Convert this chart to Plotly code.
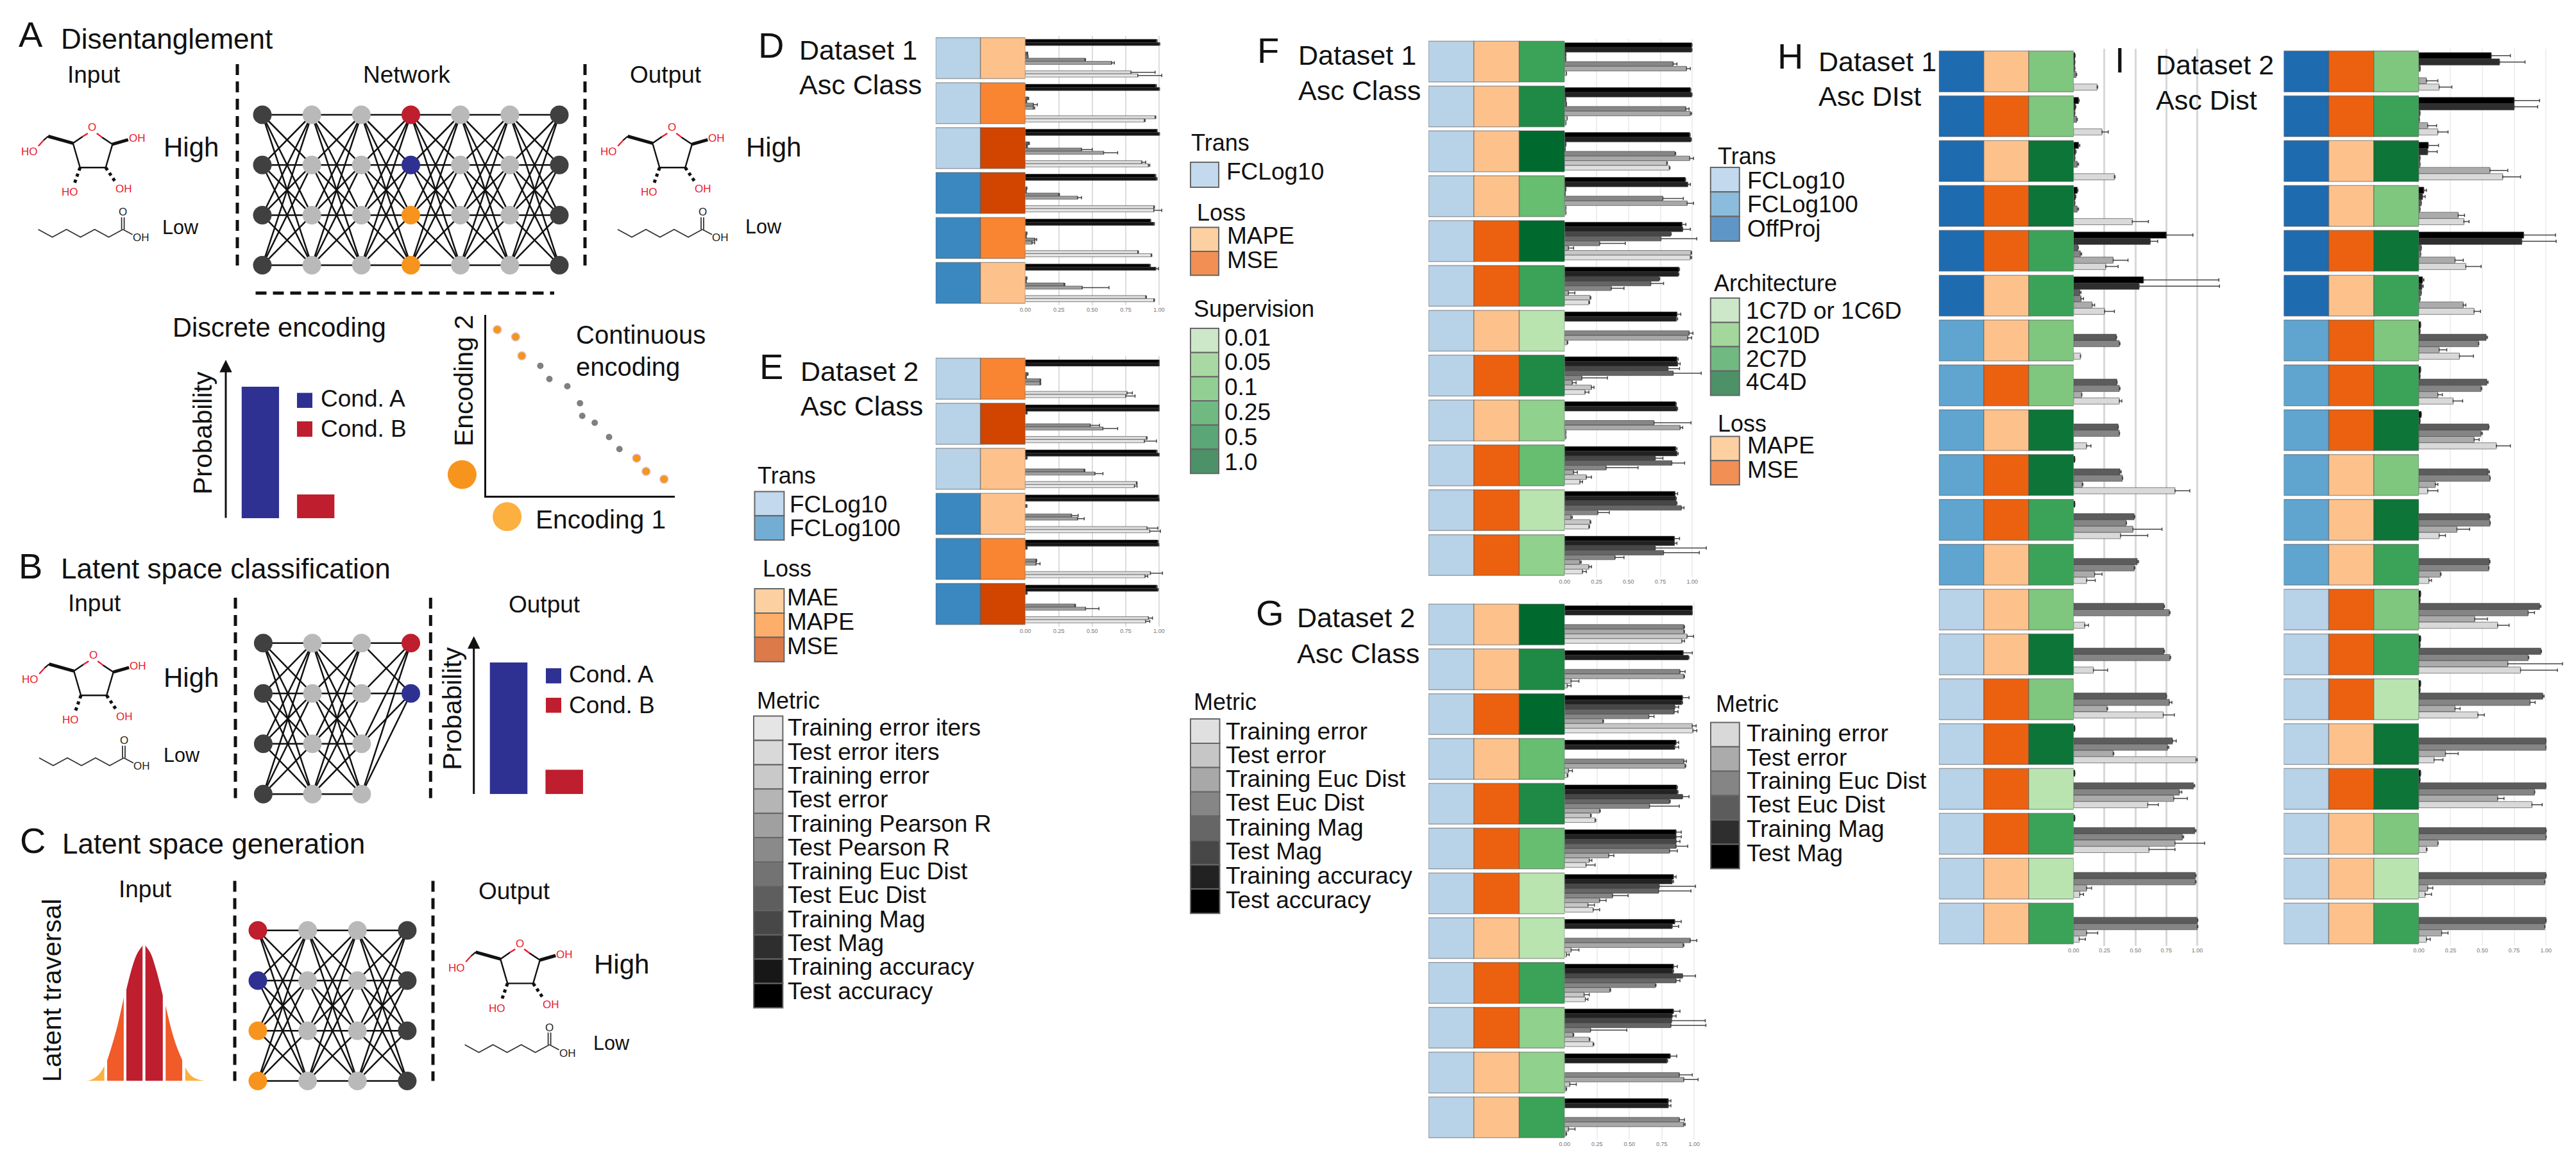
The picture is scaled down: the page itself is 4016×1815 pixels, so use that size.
import plotly.graph_objects as go

# ---------------- data -----------------
METRICS_12 = ["Test accuracy", "Training accuracy", "Test Mag", "Training Mag", "Test Euc Dist", "Training Euc Dist",
              "Test Pearson R", "Training Pearson R", "Test error", "Training error", "Test error iters", "Training error iters"]
METRICS_8 = ["Test accuracy", "Training accuracy", "Test Mag", "Training Mag", "Test Euc Dist", "Training Euc Dist",
             "Test error", "Training error"]
METRICS_6 = ["Test Mag", "Training Mag", "Test Euc Dist", "Training Euc Dist", "Test error", "Training error"]

D_TRANS = ["FCLog10", "FCLog10", "FCLog10", "FCLog100", "FCLog100", "FCLog100"]
D_LOSS = ["MAE", "MAPE", "MSE", "MSE", "MAPE", "MAE"]
D_VALUES = [
    [.98, 1.0, 0, 0, .015, .02, .445, .645, 0, 0, .79, .84],
    [.975, 1.0, 0, 0, .02, .005, .06, .06, 0, 0, .97, .89],
    [.985, 1.0, 0, 0, .025, .01, .42, .585, 0, 0, .87, .92],
    [.97, .98, 0, 0, .01, .005, .25, .39, 0, 0, .96, .96],
    [.935, .96, 0, 0, .01, .005, .07, .05, 0, 0, .84, .94],
    [.93, .975, 0, 0, .01, .005, .29, .425, 0, 0, .9, .96],
]
D_ERRORS = [
    [.005, .005, 0, 0, .003, 0, .005, .02, 0, 0, .18, .18],
    [.005, .003, 0, 0, .005, .005, .03, .01, 0, 0, .005, .005],
    [0, .003, 0, 0, .005, .005, .08, .105, 0, 0, .03, .01],
    [.005, .005, 0, 0, .002, .002, .005, .03, 0, 0, .005, .06],
    [.002, .005, 0, 0, .002, .002, .015, .02, 0, 0, .005, .005],
    [.005, .02, 0, 0, .002, .002, .005, .2, 0, 0, .005, .005],
]

E_TRANS = ["FCLog10", "FCLog10", "FCLog10", "FCLog100", "FCLog100", "FCLog100"]
E_LOSS = ["MAPE", "MSE", "MAE", "MAE", "MAPE", "MSE"]
E_VALUES = [
    [1, 1, 0, 0, .015, .005, .11, .11, 0, 0, .76, .75],
    [1, 1, .01, 0, 0, 0, .485, .58, 0, 0, .905, .89],
    [.98, 1, .01, 0, 0, 0, .44, .52, 0, 0, .83, .815],
    [.995, 1, 0, .01, 0, 0, .345, .39, 0, 0, .91, .93],
    [.99, .995, .01, 0, 0, 0, .08, .08, 0, 0, .935, .895],
    [.98, .99, .01, 0, 0, 0, .37, .45, 0, 0, .92, .9],
]
E_ERRORS = [
    [0, 0, 0, 0, .005, .002, .005, .005, 0, 0, .04, .07],
    [0, 0, .003, 0, 0, 0, .07, .11, 0, 0, .005, .09],
    [.005, 0, .003, 0, 0, 0, .005, .06, 0, 0, .005, .02],
    [.003, 0, 0, .002, 0, 0, .05, .05, 0, 0, .08, .08],
    [.003, .003, .003, 0, 0, 0, .005, .03, 0, 0, .09, .02],
    [.005, .003, .003, 0, 0, 0, .005, .1, 0, 0, .03, .03],
]

F_TRANS = ["FCLog10"] * 12
F_LOSS = ["MAPE", "MAPE", "MAPE", "MAPE", "MSE", "MSE", "MAPE", "MSE", "MAPE", "MSE", "MSE", "MSE"]
F_ARCH = ["0.25", "0.5", "1.0", "0.1", "1.0", "0.25", "0.01", "0.5", "0.05", "0.1", "0.01", "0.05"]
F_VALUES = [
    [.995, .995, .01, .01, .85, .955, .015, 0],
    [.985, .995, .01, .015, .95, .985, .02, .01],
    [.98, .99, .01, .005, .865, .98, .80, .82],
    [.945, .965, .01, .005, .77, .96, .01, .01],
    [.92, .925, .83, .755, .275, .03, .99, .985],
    [.895, .89, .74, .675, .365, .03, .2, .19],
    [.88, .875, 0, 0, .975, .965, .02, 0],
    [.88, .885, .81, .85, .135, .06, .21, .16],
    [.87, .88, 0, 0, .70, .905, .01, .01],
    [.87, .88, .71, .84, .325, .07, .17, .12],
    [.865, .87, .875, .915, .26, .05, .2, .19],
    [.86, .86, .71, .775, .395, .12, .19, .14],
]
F_ERRORS = [
    [.003, .003, 0, 0, .03, .03, 0, 0],
    [.003, .003, 0, 0, .025, .01, 0, 0],
    [.003, .003, 0, 0, .005, .03, .005, .005],
    [.003, .02, 0, 0, .16, .05, 0, 0],
    [.03, .06, .005, .28, .2, .04, .005, .01],
    [.005, .005, .005, .1, .1, .05, .005, .005],
    [.03, .01, 0, 0, .03, .03, .005, 0],
    [.01, .02, .09, .22, .2, .03, .02, .03],
    [.005, .005, 0, 0, .29, .02, 0, 0],
    [.01, .01, .06, .1, .25, .03, .04, .02],
    [.02, .005, .005, .02, .09, .01, .005, .005],
    [.04, .02, .4, .28, .07, .01, .02, .03],
]

G_TRANS = ["FCLog10"] * 12
G_LOSS = ["MAPE", "MAPE", "MSE", "MAPE", "MSE", "MSE", "MSE", "MAPE", "MSE", "MSE", "MAPE", "MAPE"]
G_ARCH = ["1.0", "0.5", "1.0", "0.1", "0.5", "0.1", "0.01", "0.01", "0.25", "0.05", "0.05", "0.25"]
G_VALUES = [
    [.985, .985, 0, 0, .92, .92, .945, .905],
    [.915, .955, 0, 0, .89, .92, .05, .02],
    [.91, .905, .85, .845, .65, .295, .985, .99],
    [.86, .85, 0, 0, .92, .93, .03, .02],
    [.865, .87, .91, .81, .655, .27, .20, .235],
    [.86, .86, .86, .86, .81, .34, .19, .165],
    [.84, .83, .73, .725, .37, .27, .18, .22],
    [.85, .83, 0, 0, .97, .915, .05, .015],
    [.84, .835, .91, .86, .70, .35, .15, .16],
    [.84, .83, .825, .82, .2, .065, .19, .22],
    [.815, .79, 0, 0, .885, .92, .04, .01],
    [.80, .80, 0, 0, .885, .92, .03, .01],
]
G_ERRORS = [
    [0, 0, 0, 0, .005, .005, .05, .02],
    [.07, .005, 0, 0, .04, .005, .06, .03],
    [.05, .005, .03, .03, .04, .005, .03, .03],
    [.02, .03, 0, 0, .02, .005, .03, .005],
    [.005, .005, .05, .005, .23, .005, .005, .005],
    [.04, .04, .03, .09, .06, .04, .02, .07],
    [.02, .01, .28, .25, .12, .05, .05, .05],
    [.05, .05, 0, 0, .05, .005, .06, .02],
    [.03, .005, .1, .03, .005, .005, .04, .02],
    [.05, .03, .26, .27, .28, .005, .005, .005],
    [.05, .005, 0, 0, .1, .11, .05, .005],
    [.02, .02, 0, 0, .04, .01, .05, .005],
]

H_TRANS = ["OffProj"] * 6 + ["FCLog100"] * 6 + ["FCLog10"] * 8
H_LOSS = ["MAPE", "MSE", "MAPE", "MSE", "MSE", "MAPE", "MAPE", "MSE", "MAPE", "MSE", "MSE", "MAPE",
          "MAPE", "MAPE", "MSE", "MSE", "MSE", "MSE", "MAPE", "MAPE"]
H_ARCH = ["2C10D", "2C10D", "4C4D", "4C4D", "2C7D", "2C7D", "2C10D", "2C10D", "4C4D", "4C4D", "2C7D", "2C7D",
          "2C10D", "4C4D", "2C10D", "4C4D", "1C7D", "2C7D", "1C7D", "2C7D"]
H_VALUES = [
    [.01, .01, .01, .02, 0, .19],
    [.04, .015, .01, .025, 0, .23],
    [.04, .015, .01, .03, 0, .33],
    [.03, .015, .01, .03, 0, .475],
    [.75, .62, .035, .055, .32, .26],
    [.565, .53, .05, .06, .15, .25],
    [0, 0, .345, .37, 0, .055],
    [0, 0, .35, .37, .065, .37],
    [0, 0, .36, .37, 0, .105],
    [.01, 0, .375, .395, .07, .82],
    [.01, 0, .49, .425, .48, .38],
    [0, 0, .515, .49, .17, .105],
    [0, 0, .73, .775, 0, .09],
    [0, 0, .73, .78, 0, .16],
    [0, 0, .75, .775, .27, .725],
    [.01, 0, .80, .76, .32, .99],
    [.01, 0, .97, .855, .81, .60],
    [.01, 0, .98, .88, .82, .61],
    [0, 0, .985, .985, .105, .05],
    [0, 0, 1.0, 1.0, .105, .045],
]
H_ERRORS = [
    [.003, 0, 0, .005, 0, .005],
    [.005, .003, 0, .005, 0, .05],
    [.01, .005, 0, .01, 0, .005],
    [.005, .003, 0, .01, 0, .13],
    [.215, .06, .003, .01, .12, .10],
    [.61, .65, .01, .02, .02, .08],
    [0, 0, .003, .005, 0, .002],
    [0, 0, .002, .005, .002, .02],
    [0, 0, .002, .002, 0, .035],
    [0, 0, .01, .002, .005, .12],
    [0, 0, .005, .003, .235, .22],
    [0, 0, .01, .005, .06, .07],
    [0, 0, .005, .005, 0, .03],
    [0, 0, .005, .005, 0, .115],
    [0, 0, .002, .02, .005, .09],
    [0, 0, .03, .01, .005, .01],
    [0, 0, .01, .02, .11, .085],
    [0, 0, .01, .01, .24, .21],
    [0, 0, .005, .005, .04, .03],
    [0, 0, .005, .005, .09, .05],
]

I_TRANS = ["OffProj"] * 6 + ["FCLog100"] * 6 + ["FCLog10"] * 8
I_LOSS = ["MSE", "MSE", "MAPE", "MAPE", "MSE", "MAPE", "MSE", "MSE", "MSE", "MAPE", "MAPE", "MAPE",
          "MSE", "MSE", "MSE", "MAPE", "MSE", "MAPE", "MAPE", "MAPE"]
I_ARCH = ["2C10D", "2C7D", "4C4D", "2C10D", "4C4D", "2C7D", "2C10D", "2C7D", "4C4D", "2C10D", "4C4D", "2C7D",
          "2C10D", "2C7D", "1C7D", "4C4D", "4C4D", "2C10D", "1C7D", "2C7D"]
I_VALUES = [
    [.57, .635, .012, 0, .06, .16],
    [.75, .75, .01, .005, .07, .15],
    [.075, .07, .01, .01, .56, .66],
    [.04, .03, .02, .01, .31, .355],
    [.825, .81, .02, .015, .285, .37],
    [.03, .025, .02, .01, .35, .435],
    [.015, .01, .53, .47, .16, .32],
    [.015, .01, .535, .49, .15, .27],
    [.02, .01, .55, .49, .435, .61],
    [0, 0, .545, .56, .13, .07],
    [0, 0, .555, .56, .30, .16],
    [0, 0, .555, .55, .17, .08],
    [.015, .01, .95, .86, .44, .62],
    [.015, .01, .96, .86, .70, .80],
    [.015, .01, .975, .875, .285, .465],
    [0, 0, 1.0, 1.0, .21, .12],
    [.015, .01, 1.0, .91, .62, .89],
    [0, 0, 1.0, 1.0, .15, .06],
    [0, 0, 1.0, .99, .07, .05],
    [0, 0, 1.0, .99, .18, .06],
]
I_ERRORS = [
    [.15, .2, 0, 0, .09, .10],
    [.2, .185, 0, 0, .07, .08],
    [.08, .075, 0, 0, .14, .14],
    [.02, .02, 0, 0, .05, .04],
    [.25, .27, 0, 0, .065, .12],
    [.01, .01, 0, 0, .02, .05],
    [0, 0, .01, .002, .06, .11],
    [0, 0, .01, .005, .035, .075],
    [0, 0, .002, .01, .04, .11],
    [0, 0, .01, .002, .02, .08],
    [0, 0, .005, .002, .1, .05],
    [0, 0, .005, .002, .005, .02],
    [0, 0, .01, .05, .1, .09],
    [0, 0, .005, .005, .43, .29],
    [0, 0, .01, .04, .04, .05],
    [0, 0, 0, 0, .1, .07],
    [0, 0, 0, .002, .05, .08],
    [0, 0, .002, .002, .002, .005],
    [0, 0, .002, .002, .04, .05],
    [0, 0, .002, .002, .05, .03],
]

COND_LABELS = ["Cond. A", "Cond. B"]
COND_PROB_A = [1.0, 0.18]
COND_PROB_B = [1.0, 0.185]
ENC_ORANGE_X = [.06, .157, .19, .798, .848, .943]
ENC_ORANGE_Y = [.917, .877, .772, .206, .133, .09]
ENC_GRAY_X = [.288, .336, .431, .498, .51, .576, .652, .707]
ENC_GRAY_Y = [.717, .644, .604, .51, .44, .402, .323, .256]
LATENT_Z = [[-2.89, -2.56, -2.22, -1.96], [-1.82, -1.56, -1.29, -1.0], [-.87, -.56, -.33, -.07],
            [.07, .33, .6, .93], [1.07, 1.33, 1.6, 1.89], [2.04, 2.33, 2.67, 3.07]]
LATENT_D = [[0, .012, .05, .11], [.15, .273, .42, .614], [.674, .85, .94, .997],
            [.997, .94, .82, .63], [.555, .392, .26, .154], [.1, .04, .012, 0]]

# ---------------- styles ---------------
W, H = 4016, 1815
FONT = "Liberation Sans"
RED, BLUE, ORANGE, ORANGE2 = "#be1e2d", "#2e3192", "#f7941d", "#fbb040"
DARK, LIGHT = "#404040", "#b9b9b9"
GRAYS = {"Training error iters": "#e5e5e5", "Test error iters": "#d9d9d9", "Training error": "#c9c9c9", "Test error": "#b5b5b5",
         "Training Pearson R": "#a0a0a0", "Test Pearson R": "#8a8a8a", "Training Euc Dist": "#737373", "Test Euc Dist": "#5e5e5e",
         "Training Mag": "#474747", "Test Mag": "#2e2e2e", "Training accuracy": "#171717", "Test accuracy": "#000000"}
GRAYS_8 = {"Training error": "#e0e0e0", "Test error": "#c6c6c6", "Training Euc Dist": "#a8a8a8", "Test Euc Dist": "#868686",
           "Training Mag": "#666666", "Test Mag": "#474747", "Training accuracy": "#222222", "Test accuracy": "#000000"}
GRAYS_6 = {"Training error": "#d9d9d9", "Test error": "#ababab", "Training Euc Dist": "#858585", "Test Euc Dist": "#5c5c5c",
           "Training Mag": "#2e2e2e", "Test Mag": "#000000"}
TRANS_C1 = {"FCLog10": "#b8d2e8", "FCLog100": "#3b88c0"}
TRANS_C2 = {"FCLog10": "#b8d2e8", "FCLog100": "#5fa5d0", "OffProj": "#1f6bb0"}
LOSS_C1 = {"MAE": "#fdc28c", "MAPE": "#f98533", "MSE": "#d14501"}
LOSS_C2 = {"MAPE": "#fdc28c", "MSE": "#ec6110"}
SUP_C = {"0.01": "#b9e4b0", "0.05": "#90d18d", "0.1": "#67bd70", "0.25": "#3ba358", "0.5": "#1f8a45", "1.0": "#006a2e"}
ARCH_C = {"1C7D": "#b9e4b0", "2C10D": "#7fc67e", "2C7D": "#3ba358", "4C4D": "#0c7537"}

fig = go.Figure()
layout_axes = {}
counter = [0]


def axes(x0, x1, y0, y1, xr, yr, xextra=None):
    counter[0] += 1
    n = counter[0]
    s = "" if n == 1 else str(n)
    xa = dict(domain=[x0 / W, x1 / W], range=xr, visible=False, anchor="y" + s, fixedrange=True)
    if xextra:
        xa.update(xextra)
    layout_axes["xaxis" + s] = xa
    layout_axes["yaxis" + s] = dict(domain=[1 - y1 / H, 1 - y0 / H], range=yr, visible=False, anchor="x" + s, fixedrange=True)
    return "x" + s, "y" + s


annotations, shapes = [], []


def txt(s, x, y, size=37, anchor="left", angle=0, color="#111111"):
    annotations.append(dict(text=s, x=x / W, y=1 - y / H, xref="paper", yref="paper", xanchor=anchor, yanchor="middle",
                            showarrow=False, textangle=angle, font=dict(family=FONT, size=size, color=color)))


def arrow(x, y_tail, y_head):
    annotations.append(dict(text="", x=x / W, y=1 - y_head / H, xref="paper", yref="paper", ax=0, ay=y_tail - y_head,
                            axref="pixel", ayref="pixel", showarrow=True, arrowhead=2, arrowsize=1.3, arrowwidth=3, arrowcolor="#111"))


def rect(x0, y0, x1, y1, fill, line="#666666", lw=2):
    shapes.append(dict(type="rect", xref="paper", yref="paper", x0=x0 / W, x1=x1 / W, y0=1 - y1 / H, y1=1 - y0 / H,
                       fillcolor=fill, line=dict(color=line, width=lw)))


def dash(x0, y0, x1, y1):
    shapes.append(dict(type="line", xref="paper", yref="paper", x0=x0 / W, x1=x1 / W, y0=1 - y0 / H, y1=1 - y1 / H,
                       line=dict(color="#111", width=5, dash="17px,10px")))


def panel(top, bottom, sx0, sx1, zero, one, cols, colmaps, metrics, colors, values, errors, grid, gridw, etop=1.25):
    n = len(values)
    pitch = (bottom - top) / (n - .09)
    y0, y1 = top - .045 * pitch, bottom + .045 * pitch
    rows = list(range(n))
    xa, ya = axes(sx0, sx1, y0, y1, [0, len(cols)], [n - .5, -.5])
    for c, (col, cm) in enumerate(zip(cols, colmaps)):
        fig.add_trace(go.Bar(y=rows, x=[1] * n, base=[c] * n, orientation="h", width=.91, offset=-.455, xaxis=xa, yaxis=ya,
                             marker=dict(color=[cm[v] for v in col], line=dict(color="rgba(70,70,70,.45)", width=1.5)), showlegend=False))
    xb, yb = axes(zero, zero + (one - zero) * etop, y0, y1, [0, etop], [n - .5, -.5], dict(
        visible=True, showline=False, zeroline=False, showgrid=True, gridcolor=grid, gridwidth=gridw, ticks="",
        tickvals=[0, .25, .5, .75, 1], ticktext=["0.00", "0.25", "0.50", "0.75", "1.00"],
        tickfont=dict(family=FONT, size=9, color="#777777")))
    m = len(metrics)
    w = .84 / m
    for i, name in enumerate(metrics):
        vals = [r[i] if r[i] > 0 else None for r in values]
        errs = [r[i] for r in errors]
        fig.add_trace(go.Bar(y=rows, x=vals, orientation="h", width=w, offset=-.42 + i * w, name=name, xaxis=xb, yaxis=yb,
                             marker=dict(color=colors[name], line=dict(color="rgba(60,60,60,.6)", width=1)), showlegend=False,
                             error_x=dict(type="data", symmetric=False, array=errs, arrayminus=[0] * n, color="#444444", thickness=1.5, width=2.5)))


panel(58.8, 473, 1458.7, 1598.5, 1598.5, 1807.1, [D_TRANS, D_LOSS], [TRANS_C1, LOSS_C1], METRICS_12, GRAYS, D_VALUES, D_ERRORS, "#dddddd", 2)
panel(558.6, 973.7, 1458.7, 1598.5, 1598.5, 1807.1, [E_TRANS, E_LOSS], [TRANS_C1, LOSS_C1], METRICS_12, GRAYS, E_VALUES, E_ERRORS, "#dddddd", 2)
panel(64.2, 897.3, 2227, 2439.3, 2439.3, 2638.3, [F_TRANS, F_LOSS, F_ARCH], [TRANS_C1, LOSS_C2, SUP_C], METRICS_8, GRAYS_8, F_VALUES, F_ERRORS, "#eeeeee", 2)
panel(942, 1774, 2227, 2439.3, 2439.3, 2641.3, [G_TRANS, G_LOSS, G_ARCH], [TRANS_C1, LOSS_C2, SUP_C], METRICS_8, GRAYS_8, G_VALUES, G_ERRORS, "#eeeeee", 2)
panel(79.5, 1471.8, 3022.8, 3232.8, 3232.8, 3425.5, [H_TRANS, H_LOSS, H_ARCH], [TRANS_C2, LOSS_C2, ARCH_C], METRICS_6, GRAYS_6, H_VALUES, H_ERRORS, "#d8d8d8", 3)
panel(79.5, 1471.8, 3560.4, 3770.9, 3770.9, 3969.2, [I_TRANS, I_LOSS, I_ARCH], [TRANS_C2, LOSS_C2, ARCH_C], METRICS_6, GRAYS_6, I_VALUES, I_ERRORS, "#f0f0f0", 2, etop=1.2)


# ---------- networks -----------
def network(xs0, xs1, ys0, ys1, layer_colors, node_size=29, lw=2.5):
    L = len(layer_colors)
    R = 4
    px = (xs1 - xs0) / (L - 1)
    py = (ys1 - ys0) / (R - 1)
    xa, ya = axes(xs0 - px / 2, xs1 + px / 2, ys0 - py / 2, ys1 + py / 2, [-.5, L - .5], [R - .5, -.5])
    ex, ey = [], []
    for l in range(L - 1):
        for a in range(len(layer_colors[l])):
            for b in range(len(layer_colors[l + 1])):
                ex += [l, l + 1, None]
                ey += [a, b, None]
    fig.add_trace(go.Scatter(x=ex, y=ey, mode="lines", line=dict(color="#111", width=lw), xaxis=xa, yaxis=ya, showlegend=False))
    nx, ny, nc = [], [], []
    for l, cs in enumerate(layer_colors):
        for r, c in enumerate(cs):
            nx.append(l)
            ny.append(r)
            nc.append(c)
    fig.add_trace(go.Scatter(x=nx, y=ny, mode="markers", marker=dict(size=node_size, color=nc, line=dict(width=0)),
                             xaxis=xa, yaxis=ya, showlegend=False))


d4 = [DARK] * 4
g4 = [LIGHT] * 4
network(409, 872, 179, 413.6, [d4, g4, g4, [RED, BLUE, ORANGE, ORANGE], g4, g4, d4])
network(410.4, 640.5, 1002.8, 1238.3, [d4, g4, g4, [RED, BLUE]])
network(402, 634.9, 1450.7, 1685.6, [[RED, BLUE, ORANGE, ORANGE], g4, g4, d4])


def prob_bars(cx0, cx1, base, top, vals):
    pitch = cx1 - cx0
    xa, ya = axes(cx0 - pitch / 2, cx1 + pitch / 2, top, base, [-.5, 1.5], [0, 1])
    fig.add_trace(go.Bar(x=[0, 1], y=vals, width=.675, marker=dict(color=[BLUE, RED], line=dict(width=0)),
                         xaxis=xa, yaxis=ya, showlegend=False, text=None))


prob_bars(405.9, 492.2, 808, 603, COND_PROB_A)
prob_bars(793, 879.7, 1238.3, 1033, COND_PROB_B)

# encoding scatter
xa, ya = axes(757.6, 1052, 490.6, 772.5, [0, 1], [0, 1], dict())
layout_axes["x" + "axis" + xa[1:]].update(visible=True, showline=True, linecolor="#111", linewidth=3, showgrid=False, zeroline=False,
                                          showticklabels=False, ticks="")
layout_axes["y" + "axis" + ya[1:]].update(visible=True, showline=True, linecolor="#111", linewidth=3, showgrid=False, zeroline=False,
                                          showticklabels=False, ticks="")
fig.add_trace(go.Scatter(x=ENC_GRAY_X, y=ENC_GRAY_Y, mode="markers", marker=dict(size=10, color="#808080", line=dict(width=0)),
                         xaxis=xa, yaxis=ya, showlegend=False))
fig.add_trace(go.Scatter(x=ENC_ORANGE_X, y=ENC_ORANGE_Y, mode="markers",
                         marker=dict(size=13, color=ORANGE, line=dict(width=1.5, color="#d8c8d8")), xaxis=xa, yaxis=ya, showlegend=False))

# Gaussian
xa, ya = axes(133.3, 321.3, 1473.9, 1685.6, [-2.89, 3.07], [0, 1])
for z, d, c in zip(LATENT_Z, LATENT_D, [ORANGE2, "#f15a29", RED, RED, "#f15a29", ORANGE2]):
    fig.add_trace(go.Scatter(x=z, y=d, mode="lines", fill="tozeroy", fillcolor=c, line=dict(width=0, color=c, shape="spline"),
                             xaxis=xa, yaxis=ya, showlegend=False))

# ---------- molecules on a page-sized axis -----------
pa, pb = axes(0, W, 0, H, [0, W], [H, 0])


def seg(points, color, width, dash_="solid"):
    fig.add_trace(go.Scatter(x=[p[0] for p in points], y=[p[1] for p in points], mode="lines",
                             line=dict(color=color, width=width, dash=dash_), xaxis=pa, yaxis=pb, showlegend=False))


def ribose(ox, oy):
    P = lambda a, b: (ox + a, oy + b)
    c1, c2, c3, c4 = (31.6, 20), (21, 56.4), (-19, 56.4), (-30, 18.4)
    seg([P(*c1), P(*c2), P(*c3), P(*c4), P(-15, 8)], "#111", 2.4)
    seg([P(*c1), P(15, 9)], "#111", 2.4)
    seg([P(-15, 8), P(-7, 3)], "#e8192c", 2.4)
    seg([P(15, 9), P(7, 3)], "#e8192c", 2.4)
    seg([P(*c4), P(-68.7, 7.6)], "#111", 5)
    seg([P(-68.7, 7.6), P(-76, 14)], "#111", 2.2)
    seg([P(-76, 14), P(-84, 22.8)], "#e8192c", 2.2)
    seg([P(*c1), P(56, 13)], "#111", 5)
    seg([P(*c2), P(37, 80)], "#111", 5, "dot")
    seg([P(*c3), P(-28, 82)], "#111", 5, "dot")
    for t, a, b in [("O", 0, -6), ("HO", -98, 32), ("OH", 70, 11), ("OH", 49, 89.5), ("HO", -35, 95)]:
        txt(t, ox + a, oy + b, 17, "center", color="#e8192c")


def chain(sx, sy):
    pts = [(sx + i * 22, sy + (12 if i % 2 else 0)) for i in range(7)]
    seg(pts, "#333", 1.8)
    cx, cy = pts[-1]
    seg([(cx - 2, cy), (cx - 2, cy - 19)], "#333", 1.8)
    seg([(cx + 2, cy), (cx + 2, cy - 19)], "#333", 1.8)
    seg([(cx, cy), (cx + 15, cy + 8)], "#333", 1.8)
    txt("O", cx, cy - 27, 17, "center", color="#222")
    txt("OH", cx + 28, cy + 13, 17, "center", color="#222")


ribose(143.8, 204.9)
chain(59.6, 357.8)
ribose(1047.3, 204.9)
chain(963, 357.8)
ribose(145.2, 1027.9)
chain(61, 1181.8)
ribose(810.2, 1477)
chain(724.6, 1629)

# circles beside the encoding axes
fig.add_trace(go.Scatter(x=[720.4, 790.6], y=[740, 805.6], mode="markers", marker=dict(size=45, color=[ORANGE, ORANGE2], line=dict(width=0)),
                         xaxis=pa, yaxis=pb, showlegend=False))

# ---------- dashed separators ----------
dash(370, 100, 370, 415)
dash(912, 100, 912, 415)
dash(398.5, 457, 864, 457)
dash(367, 932, 367, 1244.6)
dash(671.3, 932, 671.3, 1244.6)
dash(366, 1373.4, 366, 1685.6)
dash(675, 1373.4, 675, 1685.6)
arrow(352, 809, 561)
arrow(738.7, 1239.6, 992)

# ---------- text A, B, C ----------
txt("A", 48, 54, 56, "center")
txt("Disentanglement", 93, 60, 44)
txt("Input", 146.6, 116.6, 37, "center")
txt("Network", 633.5, 116.6, 37, "center")
txt("Output", 1038, 116.6, 37, "center")
txt("High", 252.5, 230, 42)
txt("Low", 251, 354, 30.6)
txt("High", 1161, 230, 42)
txt("Low", 1160, 353, 30.6)
txt("Discrete encoding", 435, 511, 41.6, "center")
txt("Probability", 316, 675, 41, "center", -90)
txt("Encoding 2", 722.5, 593.6, 41, "center", -90)
txt("Encoding 1", 832.7, 810, 40.6)
txt("Continuous", 896, 521.5, 40)
txt("encoding", 896, 572, 40)
rect(463, 612.6, 487, 636, BLUE, BLUE, 0)
rect(463, 657, 487, 681, RED, RED, 0)
txt(COND_LABELS[0], 498, 621, 37)
txt(COND_LABELS[1], 498, 668, 37)

txt("B", 47.7, 882, 56, "center")
txt("Latent space classification", 93.3, 886.5, 44)
txt("Input", 147, 940.6, 37, "center")
txt("Output", 849, 943, 37, "center")
txt("High", 252.5, 1056, 42)
txt("Low", 252.5, 1177.4, 30.6)
txt("Probability", 705, 1104.7, 41, "center", -90)
rect(851, 1042, 875, 1065.6, BLUE, BLUE, 0)
rect(851, 1088, 875, 1111.4, RED, RED, 0)
txt(COND_LABELS[0], 885, 1051, 37)
txt(COND_LABELS[1], 885, 1099, 37)

txt("C", 50.5, 1310.6, 56, "center")
txt("Latent space generation", 94.7, 1315, 44)
txt("Latent traversal", 80.7, 1544.6, 41.5, "center", -90)
txt("Input", 226.6, 1386, 37, "center")
txt("Output", 801.8, 1389, 37, "center")
txt("High", 924, 1503.4, 42)
txt("Low", 922.5, 1626, 30.6)

# ---------- panel titles ----------
for letter, lx, ly, a, b, tx, y1, y2 in [
    ("D", 1202, 70.9, "Dataset 1", "Asc Class", 1244.4, 77.6, 132),
    ("E", 1202, 571.4, "Dataset 2", "Asc Class", 1246.4, 578.7, 633),
    ("F", 1976.5, 78.8, "Dataset 1", "Asc Class", 2022.4, 86, 141),
    ("G", 1980, 955.4, "Dataset 2", "Asc Class", 2020, 963, 1018.5),
    ("H", 2790.5, 88, "Dataset 1", "Asc DIst", 2832.6, 96, 150),
    ("I", 3305, 93, "Dataset 2", "Asc Dist", 3359, 100.6, 155.7),
]:
    txt(letter, lx, ly, 56, "center")
    txt(a, tx, y1, 43)
    txt(b, tx, y2, 43)


# ---------- legends -----------
def legend(title, tx, ty, x0, x1, ytop, pitch, colors, labels, lx, lys, size=37):
    txt(title, tx, ty, 36)
    for i, c in enumerate(colors):
        rect(x0, ytop + i * pitch, x1, ytop + (i + 1) * pitch, c)
    for t, y in zip(labels, lys):
        txt(t, lx, y, size)


legend("Trans", 1855, 223, 1856, 1900, 253, 39, ["#c3d9ed"], ["FCLog10"], 1910, [268])
legend("Loss", 1864, 331, 1856, 1900, 354.5, 37.4, ["#fdd0a2", "#f28f55"], ["MAPE", "MSE"], 1911, [368, 405])
legend("Supervision", 1859, 482, 1856, 1900, 512, 37.7, ["#cce8c8", "#a9d9a3", "#92cf92", "#70ba82", "#5aa676", "#4c9168"],
       ["0.01", "0.05", "0.1", "0.25", "0.5", "1.0"], 1907, [526, 565, 603.5, 642, 681, 720])
legend("Trans", 1179, 741.6, 1176.5, 1222.4, 766.5, 37.7, ["#c3d9ed", "#73add4"], ["FCLog10", "FCLog100"], 1228.6, [786, 823])
legend("Loss", 1186.7, 886.5, 1176.5, 1222.4, 918, 37.9, ["#fdd0a2", "#fdae6b", "#dc7a4a"], ["MAE", "MAPE", "MSE"], 1225, [931, 969, 1007])
legend("Metric", 1177.5, 1092, 1175, 1220.4, 1116.6, 37.9, list(GRAYS.values()), list(GRAYS.keys()), 1226,
       [1134.8 + i * 37.3 for i in range(12)])
legend("Metric", 1858.7, 1094.5, 1856, 1901.5, 1121, 37.9, list(GRAYS_8.values()), list(GRAYS_8.keys()), 1909,
       [1140.4, 1177, 1214, 1251, 1290, 1327, 1365.6, 1403])
legend("Trans", 2675.5, 243.4, 2666.8, 2711.8, 261, 38.3, ["#c3d9ed", "#8cbcdc", "#5f96c8"], ["FCLog10", "FCLog100", "OffProj"], 2722, [281, 318.7, 356.8])
legend("Architecture", 2670.4, 441, 2666.8, 2711.8, 464.8, 37.9, ["#cde8c9", "#a3d79c", "#70ba82", "#4c9168"],
       ["1C7D or 1C6D", "2C10D", "2C7D", "4C4D"], 2720, [484.5, 522, 559, 595.6])
legend("Loss", 2675.5, 660, 2666.8, 2711.8, 680.6, 37.7, ["#fdd0a2", "#f28f55"], ["MAPE", "MSE"], 2722, [694, 732])
legend("Metric", 2673, 1097, 2667, 2711.8, 1126.4, 38, list(GRAYS_6.values()), list(GRAYS_6.keys()), 2721,
       [1143, 1181, 1217, 1254.6, 1292.7, 1330.8])

fig.update_layout(width=W, height=H, margin=dict(l=0, r=0, t=0, b=0), paper_bgcolor="white", plot_bgcolor="rgba(0,0,0,0)",
                  barmode="overlay", showlegend=False, template="none", annotations=annotations, shapes=shapes, **layout_axes)
fig.write_html("out.html", config={"displayModeBar": False},
               post_script="document.body.style.margin='0';document.body.style.overflow='hidden';")
